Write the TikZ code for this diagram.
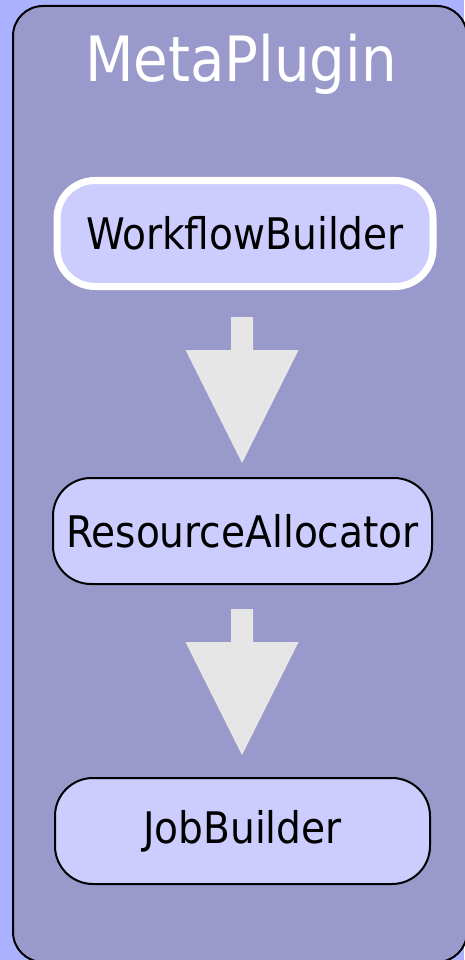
\documentclass[tikz,border=0pt]{standalone}
\usepackage{fontspec}
\setmainfont{DejaVu Sans Condensed}
\usetikzlibrary{calc}
\definecolor{pagebg}{HTML}{AAB2FF}
\definecolor{panelfill}{HTML}{9999CC}
\definecolor{boxfill}{HTML}{CCCCFF}
\definecolor{arrowfill}{HTML}{E6E6E6}
\tikzset{
  component/.style={rectangle, rounded corners=38pt, fill=boxfill, draw=black,
    line width=2pt, inner sep=0pt, minimum height=106pt,
    font=\fontsize{43.5}{50}\selectfont, text=black},
  selected/.style={component, draw=white, line width=7pt},
  flowarrow/.pic={
    \fill[arrowfill] (-11,0) -- (11,0) -- (11,33) -- (56.5,33) -- (0,146)
      -- (-56.5,33) -- (-11,33) -- cycle;
  }
}
\begin{document}
\begin{tikzpicture}[x=1pt, y=-1pt]
  \useasboundingbox (0,0) rectangle (464,960);
  \fill[pagebg] (0,0) rectangle (464,960);
  % outer plugin panel
  \draw[fill=panelfill, draw=black, line width=2pt, rounded corners=30pt]
    (13,6) rectangle (467,962);
  \node[text=white, font=\fontsize{62.5}{72}\selectfont, anchor=base] (title)
    at (241,82) {MetaPlugin};
  % components
  \node[selected, minimum width=376pt] (wf) at (245,233.5) {WorkflowBuilder};
  \node[component, minimum width=379pt] (ra) at (242.5,531) {ResourceAllocator};
  \node[component, minimum width=375pt] (jb) at (242.5,831) {JobBuilder};
  % flow arrows between components
  \pic at (242,317) {flowarrow};
  \pic at (242,609) {flowarrow};
\end{tikzpicture}
\end{document}
